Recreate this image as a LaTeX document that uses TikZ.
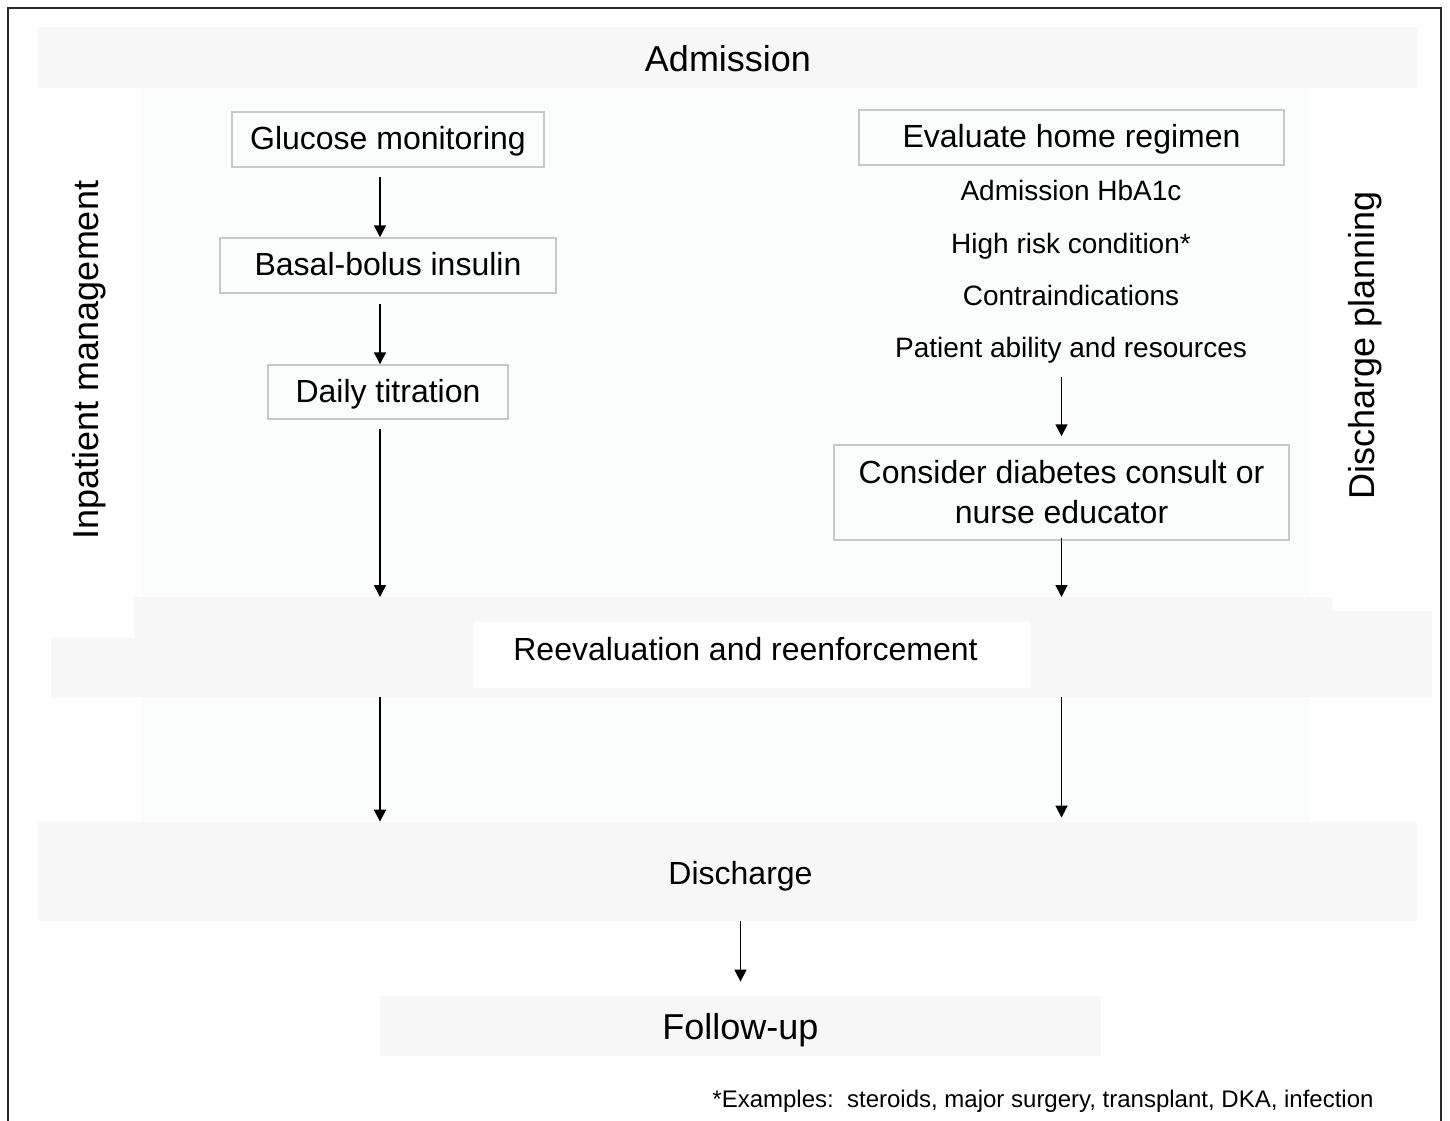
\documentclass[tikz,border=0pt]{standalone}
\usepackage{fontspec}
\setmainfont{Liberation Sans}
\usetikzlibrary{arrows.meta}
\definecolor{band}{RGB}{247,247,247}
\definecolor{faint}{RGB}{251,252,252}
\definecolor{boxline}{RGB}{200,200,200}
\definecolor{framecol}{RGB}{40,40,40}
\tikzset{
  lbl/.style={text height=1em, text depth=0pt, inner sep=0pt},
  big/.style={font=\fontsize{18pt}{22pt}\selectfont},
  mid/.style={font=\fontsize{16pt}{20pt}\selectfont},
  small/.style={font=\fontsize{14pt}{17pt}\selectfont},
  note/.style={font=\fontsize{12pt}{14pt}\selectfont},
  stepbox/.style={draw=boxline, line width=0.75pt, inner sep=0pt, mid},
  bandnode/.style={fill=band, draw=none, inner sep=0pt},
  arr/.style={-{Triangle[length=6pt,width=6pt]}, line width=0.8pt, black},
}
\begin{document}
\begin{tikzpicture}[x=0.5pt,y=-0.5pt]
\useasboundingbox (0,0) rectangle (1450,1120);
\clip (0,0) rectangle (1450,1120);
\fill[white] (0,0) rectangle (1450,1120);
\draw[framecol, line width=0.75pt] (8,1140) -- (8,8) -- (1441,8) -- (1441,1140);
\fill[faint] (142,88) rectangle (1310,822);

% bands
\node[bandnode, minimum width=689.5pt, minimum height=30.5pt] (admband) at (727.5,57.5) {};
\node[lbl,big] (adm) at (728,61) {Admission};

\fill[band] (134,597) -- (1332,597) -- (1332,611) -- (1432,611) -- (1432,697) -- (51,697) -- (51,638) -- (134,638) -- cycle;
\coordinate (rvtop) at (750,597);
\coordinate (rvbot) at (750,697);
\node[fill=white, inner sep=0pt, minimum width=279pt, minimum height=33pt] (rvbox) at (752,655) {};
\node[lbl,mid] (rv) at (745.5,650) {Reevaluation and reenforcement};

\node[bandnode, minimum width=689.5pt, minimum height=49.5pt] (disband) at (727.5,871.5) {};
\node[lbl,mid] (dis) at (740.5,874) {Discharge};

\node[bandnode, minimum width=360.5pt, minimum height=30pt] (fuband) at (740.5,1026) {};
\node[lbl,big] (fu) at (740.5,1029) {Follow-up};

% side labels
\node[lbl,big,rotate=90] (im) at (88,360) {Inpatient management};
\node[lbl,big,rotate=90] (dp) at (1364,345.5) {Discharge planning};

% left column
\node[stepbox, lbl, minimum width=156pt, minimum height=27.5pt] (gm) at (388,139.5) {Glucose monitoring};
\node[stepbox, lbl, minimum width=168pt, minimum height=27.5pt] (bb) at (388,265.5) {Basal-bolus insulin};
\node[stepbox, lbl, minimum width=120pt, minimum height=27pt] (dt) at (388,392) {Daily titration};

% right column
\node[stepbox, lbl, minimum width=212.5pt, minimum height=27.5pt] (ehr) at (1071.5,137.5) {Evaluate home regimen};
\node[lbl,small] (l1) at (1071,190) {Admission HbA1c};
\node[lbl,small] (l2) at (1071,243) {High risk condition*};
\node[lbl,small] (l3) at (1071,295) {Contraindications};
\node[lbl,small] (pa) at (1071,347) {Patient ability and resources};
\node[stepbox, align=center, minimum width=227.5pt, minimum height=47.5pt] (cons) at (1061.5,492.5) {Consider diabetes consult or\\nurse educator};

% footnote
\node[lbl,note] (fn) at (1043,1097) {*Examples:\ \ steroids, major surgery, transplant, DKA, infection};

% arrows
\draw[arr] ([xshift=-4pt,yshift=-4.5pt]gm.south) -- ([xshift=-4pt]bb.north);
\draw[arr] ([xshift=-4pt,yshift=-5pt]bb.south) -- ([xshift=-4pt]dt.north);
\draw[arr] ([xshift=-4pt,yshift=-4.5pt]dt.south) -- ([xshift=-4pt]dt.south |- rvtop);
\draw[arr] ([yshift=-10pt]pa.south -| cons.north) -- ([yshift=4pt]cons.north);
\draw[arr] ([yshift=1.5pt]cons.south) -- (cons.south |- rvtop);
\draw[arr] ([xshift=-4pt]dt.south |- rvbot) -- ([xshift=-4pt]dt.south |- disband.north);
\draw[arr] (cons.south |- rvbot) -- ([yshift=2pt]cons.south |- disband.north);
\draw[arr] (fuband.north |- disband.south) -- ([yshift=7pt]fuband.north);
\end{tikzpicture}
\end{document}
